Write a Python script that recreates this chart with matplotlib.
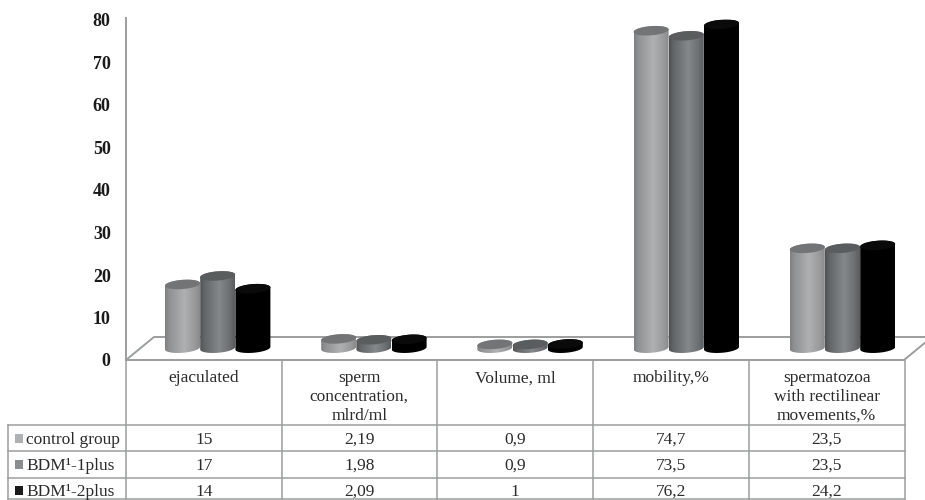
import numpy as np
import matplotlib
matplotlib.use("Agg")
import matplotlib.pyplot as plt
from matplotlib.patches import PathPatch
from matplotlib.path import Path

# =========================
# DATA
# =========================
categorias = ["ejaculated", "sperm\nconcentration,\nmlrd/ml", "Volume, ml", "mobility,%",
              "spermatozoa\nwith rectilinear\nmovements,%"]
grupos = ["control group", "BDM¹-1plus", "BDM¹-2plus"]
control = [15, 2.19, 0.9, 74.7, 23.5]
plus1 = [17, 1.98, 0.9, 73.5, 23.5]
plus2 = [14, 2.09, 1, 76.2, 24.2]
rotulos_control = ["15", "2,19", "0,9", "74,7", "23,5"]
rotulos_plus1 = ["17", "1,98", "0,9", "73,5", "23,5"]
rotulos_plus2 = ["14", "2,09", "1", "76,2", "24,2"]
yticks = [0, 10, 20, 30, 40, 50, 60, 70, 80]

# =========================
# CONFIG VISUAL
# =========================
W, H = 925, 500
plt.rcParams["font.family"] = ["Liberation Serif", "DejaVu Serif"]
COR_LINHA = "#9c9e9e"
COR_TEXTO = "#2b2b2b"
LW = 1.1

# cores: borda, centro, tampa do cilindro
estilos = [("#7e8081", "#aeb0b1", "#727475"),
           ("#4f5253", "#85888a", "#5a5d5e"),
           ("#000000", "#000000", "#0a0a0a")]
cores_legenda = ["#b0b1b3", "#8b8c8e", "#1a1a1a"]

fig = plt.figure(figsize=(W / 100, H / 100), dpi=100)

# camada em pixels para a tabela
tab = fig.add_axes([0, 0, 1, 1])
tab.set_xlim(0, W)
tab.set_ylim(H, 0)
tab.axis("off")

# eixo do grafico
X0, X1, Y0, Y80 = 126, 904, 360, 20
ax = fig.add_axes([X0 / W, 1 - Y0 / H, (X1 - X0) / W, (Y0 - Y80) / H])
ax.set_xlim(0, 5)
ax.set_ylim(0, 80)
ax.patch.set_alpha(0)
for lado in ["top", "right", "bottom"]:
    ax.spines[lado].set_visible(False)
ax.spines["left"].set_color(COR_LINHA)
ax.spines["left"].set_linewidth(LW + 0.3)
ax.spines["left"].set_bounds(0, 80.4)
ax.set_xticks([])
ax.set_yticks(yticks)
ax.tick_params(axis="y", length=0, pad=11)
for t in ax.get_yticklabels():
    t.set_fontweight("bold")
    t.set_fontsize(13)
    t.set_color("#1a1a1a")

# unidades por pixel
ux = 5 / (X1 - X0)
uy = 80 / (Y0 - Y80)

# =========================
# PISO
# =========================
fundo = 23 * uy
recuo = 28 * ux
ax.plot([0, 5, 5 + recuo], [0, 0, fundo], color=COR_LINHA, lw=LW + 0.3, clip_on=False, zorder=1)
ax.plot([0, recuo, 5 + recuo], [0, fundo, fundo], color=COR_LINHA, lw=LW + 0.3, clip_on=False, zorder=1)

# =========================
# CILINDROS
# =========================
largura = 35 * ux
ry = 4.6 * uy
base = 11.8 * uy
inclinacao = 1.3 * uy
offset = 39 * ux      # borda esquerda do primeiro cilindro dentro da categoria
passo_cat = 156.2 * ux
passo_bar = 35.2 * ux
gradiente = np.interp(np.linspace(0, 1, 128), [0, 0.12, 0.55, 0.85, 1], [0, 0.35, 1, 0.55, 0.2])


def hexrgb(c):
    return np.array(matplotlib.colors.to_rgb(c))


def arco(xc, yc, t):
    # elipse levemente inclinada
    x = xc + largura / 2 * np.cos(t)
    y = yc + ry * np.sin(t) + inclinacao * np.cos(t)
    return x, y


def cilindro(xe, valor, estilo):
    borda, centro, tampa = estilo
    xc = xe + largura / 2
    y_top = base + valor
    t_base = np.linspace(np.pi, 2 * np.pi, 40)
    t_topo = np.linspace(0, np.pi, 40)
    xb, yb = arco(xc, base, t_base)
    xt, yt = arco(xc, y_top, t_topo)
    xs = np.r_[xb, xt]
    ys = np.r_[yb, yt]
    corpo = PathPatch(Path(np.c_[xs, ys]), facecolor="none", edgecolor="none", clip_on=False)
    ax.add_patch(corpo)
    c0, c1 = hexrgb(borda), hexrgb(centro)
    img = c0[None, None, :] + (c1 - c0)[None, None, :] * gradiente[None, :, None]
    im = ax.imshow(img, extent=[xe, xe + largura, base - 2 * ry, y_top + 2 * ry], aspect="auto",
                   origin="lower", zorder=3, interpolation="bilinear")
    im.set_clip_path(corpo)
    tt = np.linspace(0, 2 * np.pi, 80)
    xa, ya = arco(xc, y_top, tt)
    ax.fill(xa, ya, color=tampa, lw=0, zorder=4, clip_on=False)


series = [control, plus1, plus2]
for i in range(len(categorias)):
    for j, serie in enumerate(series):
        cilindro(i * passo_cat + offset + j * passo_bar, serie[i], estilos[j])

ax.set_xlim(0, 5)
ax.set_ylim(0, 80)

# =========================
# TABELA
# =========================
colunas = [126, 281.5, 437, 593, 749, 904.5]
linhas = [425, 451, 478, 499]
centros = [438, 464, 490]
TAB_X = 8

for x in colunas:
    tab.plot([x, x], [Y0, linhas[-1]], color=COR_LINHA, lw=LW)
tab.plot([TAB_X, TAB_X], [linhas[0], linhas[-1]], color=COR_LINHA, lw=LW)
for y in linhas:
    tab.plot([TAB_X, colunas[-1]], [y, y], color=COR_LINHA, lw=LW)

for i, nome in enumerate(categorias):
    xc = (colunas[i] + colunas[i + 1]) / 2
    tab.text(xc, 370.5, nome, ha="center", va="top", fontsize=12.5, linespacing=1.22, color=COR_TEXTO)

rotulos = [rotulos_control, rotulos_plus1, rotulos_plus2]
for k, nome in enumerate(grupos):
    yc = centros[k]
    tab.fill_between([14.5, 23], yc - 4.5, yc + 4.5, color=cores_legenda[k], lw=0)
    tab.text(26, yc, nome, ha="left", va="center_baseline", fontsize=12.5, color=COR_TEXTO)
    for i, txt in enumerate(rotulos[k]):
        xc = (colunas[i] + colunas[i + 1]) / 2
        tab.text(xc, yc, txt, ha="center", va="center_baseline", fontsize=12.5, color=COR_TEXTO)

tab.set_xlim(0, W)
tab.set_ylim(H, 0)

plt.savefig("out.png", dpi=100)
